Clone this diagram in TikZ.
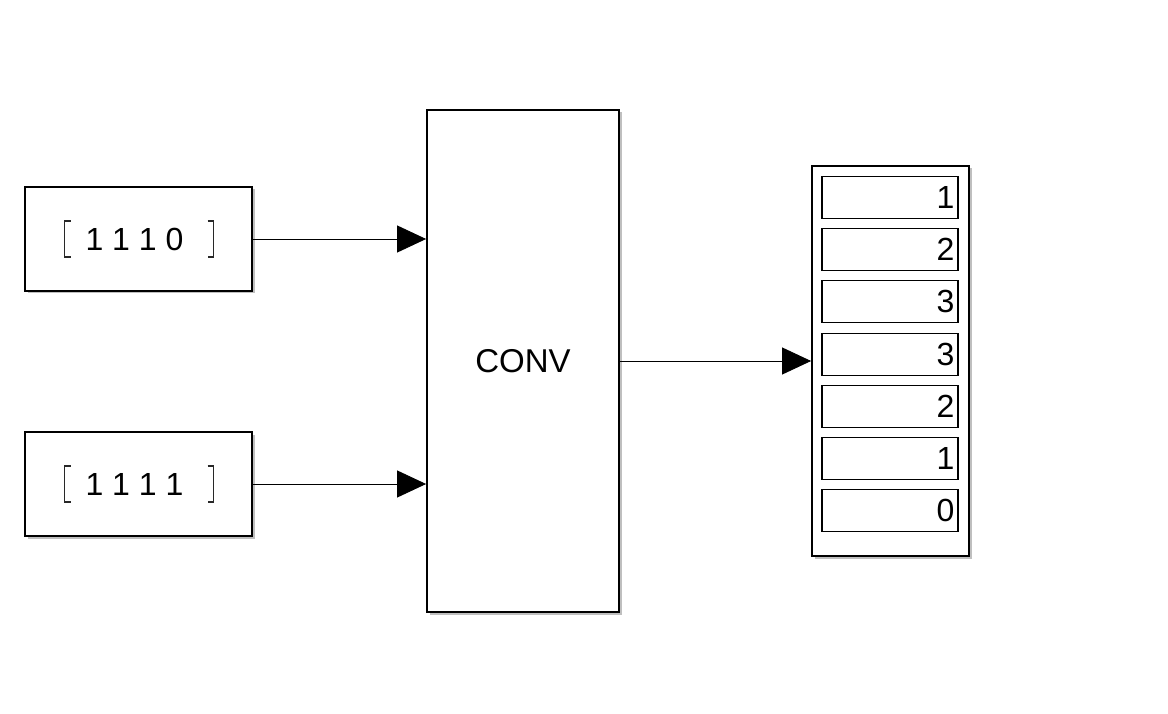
\documentclass[tikz,border=0pt]{standalone}
\usepackage{fontspec}
\setmainfont{Liberation Sans}
\usetikzlibrary{positioning,arrows.meta,calc,shadows}
\definecolor{skGray}{RGB}{40,40,40}

\tikzset{
  blockbox/.style={draw=black, line width=1.8pt, fill=white, inner sep=0pt,
    drop shadow={shadow xshift=2.5pt, shadow yshift=-2.5pt, opacity=0.5}},
  cellbox/.style={draw=black, line width=1.1pt, fill=white, inner sep=0pt,
    minimum width=136pt, minimum height=42pt},
  signal/.style={line width=0.9pt, -{Triangle[length=29pt,width=27pt]}},
  brack/.style={line width=1.1pt, skGray}
}

\begin{document}
\begin{tikzpicture}[x=1pt, y=-1pt, font=\fontsize{32}{36}\selectfont]
  \useasboundingbox (0,0) rectangle (1168,714);

  % constant sources
  \node[blockbox, minimum width=227pt, minimum height=104pt] (constA) at (138.5,239) {};
  \node (valA) at ($(constA.center)+(-4,0)$) {1 1 1 0};
  \draw[brack] ($(constA.center)+(-68,-18)$) -- ++(-6,0) -- ++(0,36) -- ++(6,0);
  \draw[brack] ($(constA.center)+(69,-18)$) -- ++(6,0) -- ++(0,36) -- ++(-6,0);

  \node[blockbox, minimum width=227pt, minimum height=104pt] (constB) at (138.5,484) {};
  \node (valB) at ($(constB.center)+(-4,0)$) {1 1 1 1};
  \draw[brack] ($(constB.center)+(-68,-18)$) -- ++(-6,0) -- ++(0,36) -- ++(6,0);
  \draw[brack] ($(constB.center)+(69,-18)$) -- ++(6,0) -- ++(0,36) -- ++(-6,0);

  % convolution block
  \node[blockbox, minimum width=192pt, minimum height=502pt] (conv) at (523,361) {};
  \node (convtxt) at (conv.center) {\fontsize{33}{36}\selectfont CONV};

  % display
  \node[blockbox, minimum width=157pt, minimum height=390pt] (disp) at (890.5,361) {};
  \foreach \v [count=\i] in {1,2,3,3,2,1,0} {
    \node[cellbox] (cell\i) at (890,{197.5+52.2*(\i-1)}) {};
    \node[anchor=east, inner sep=0pt] (num\i) at ($(cell\i.east)+(-4,0)$) {\v};
  }

  % signals
  \draw[signal] (constA.east) -- (constA.east -| conv.west);
  \draw[signal] (constB.east) -- (constB.east -| conv.west);
  \draw[signal] (conv.east) -- (disp.west);
\end{tikzpicture}
\end{document}
